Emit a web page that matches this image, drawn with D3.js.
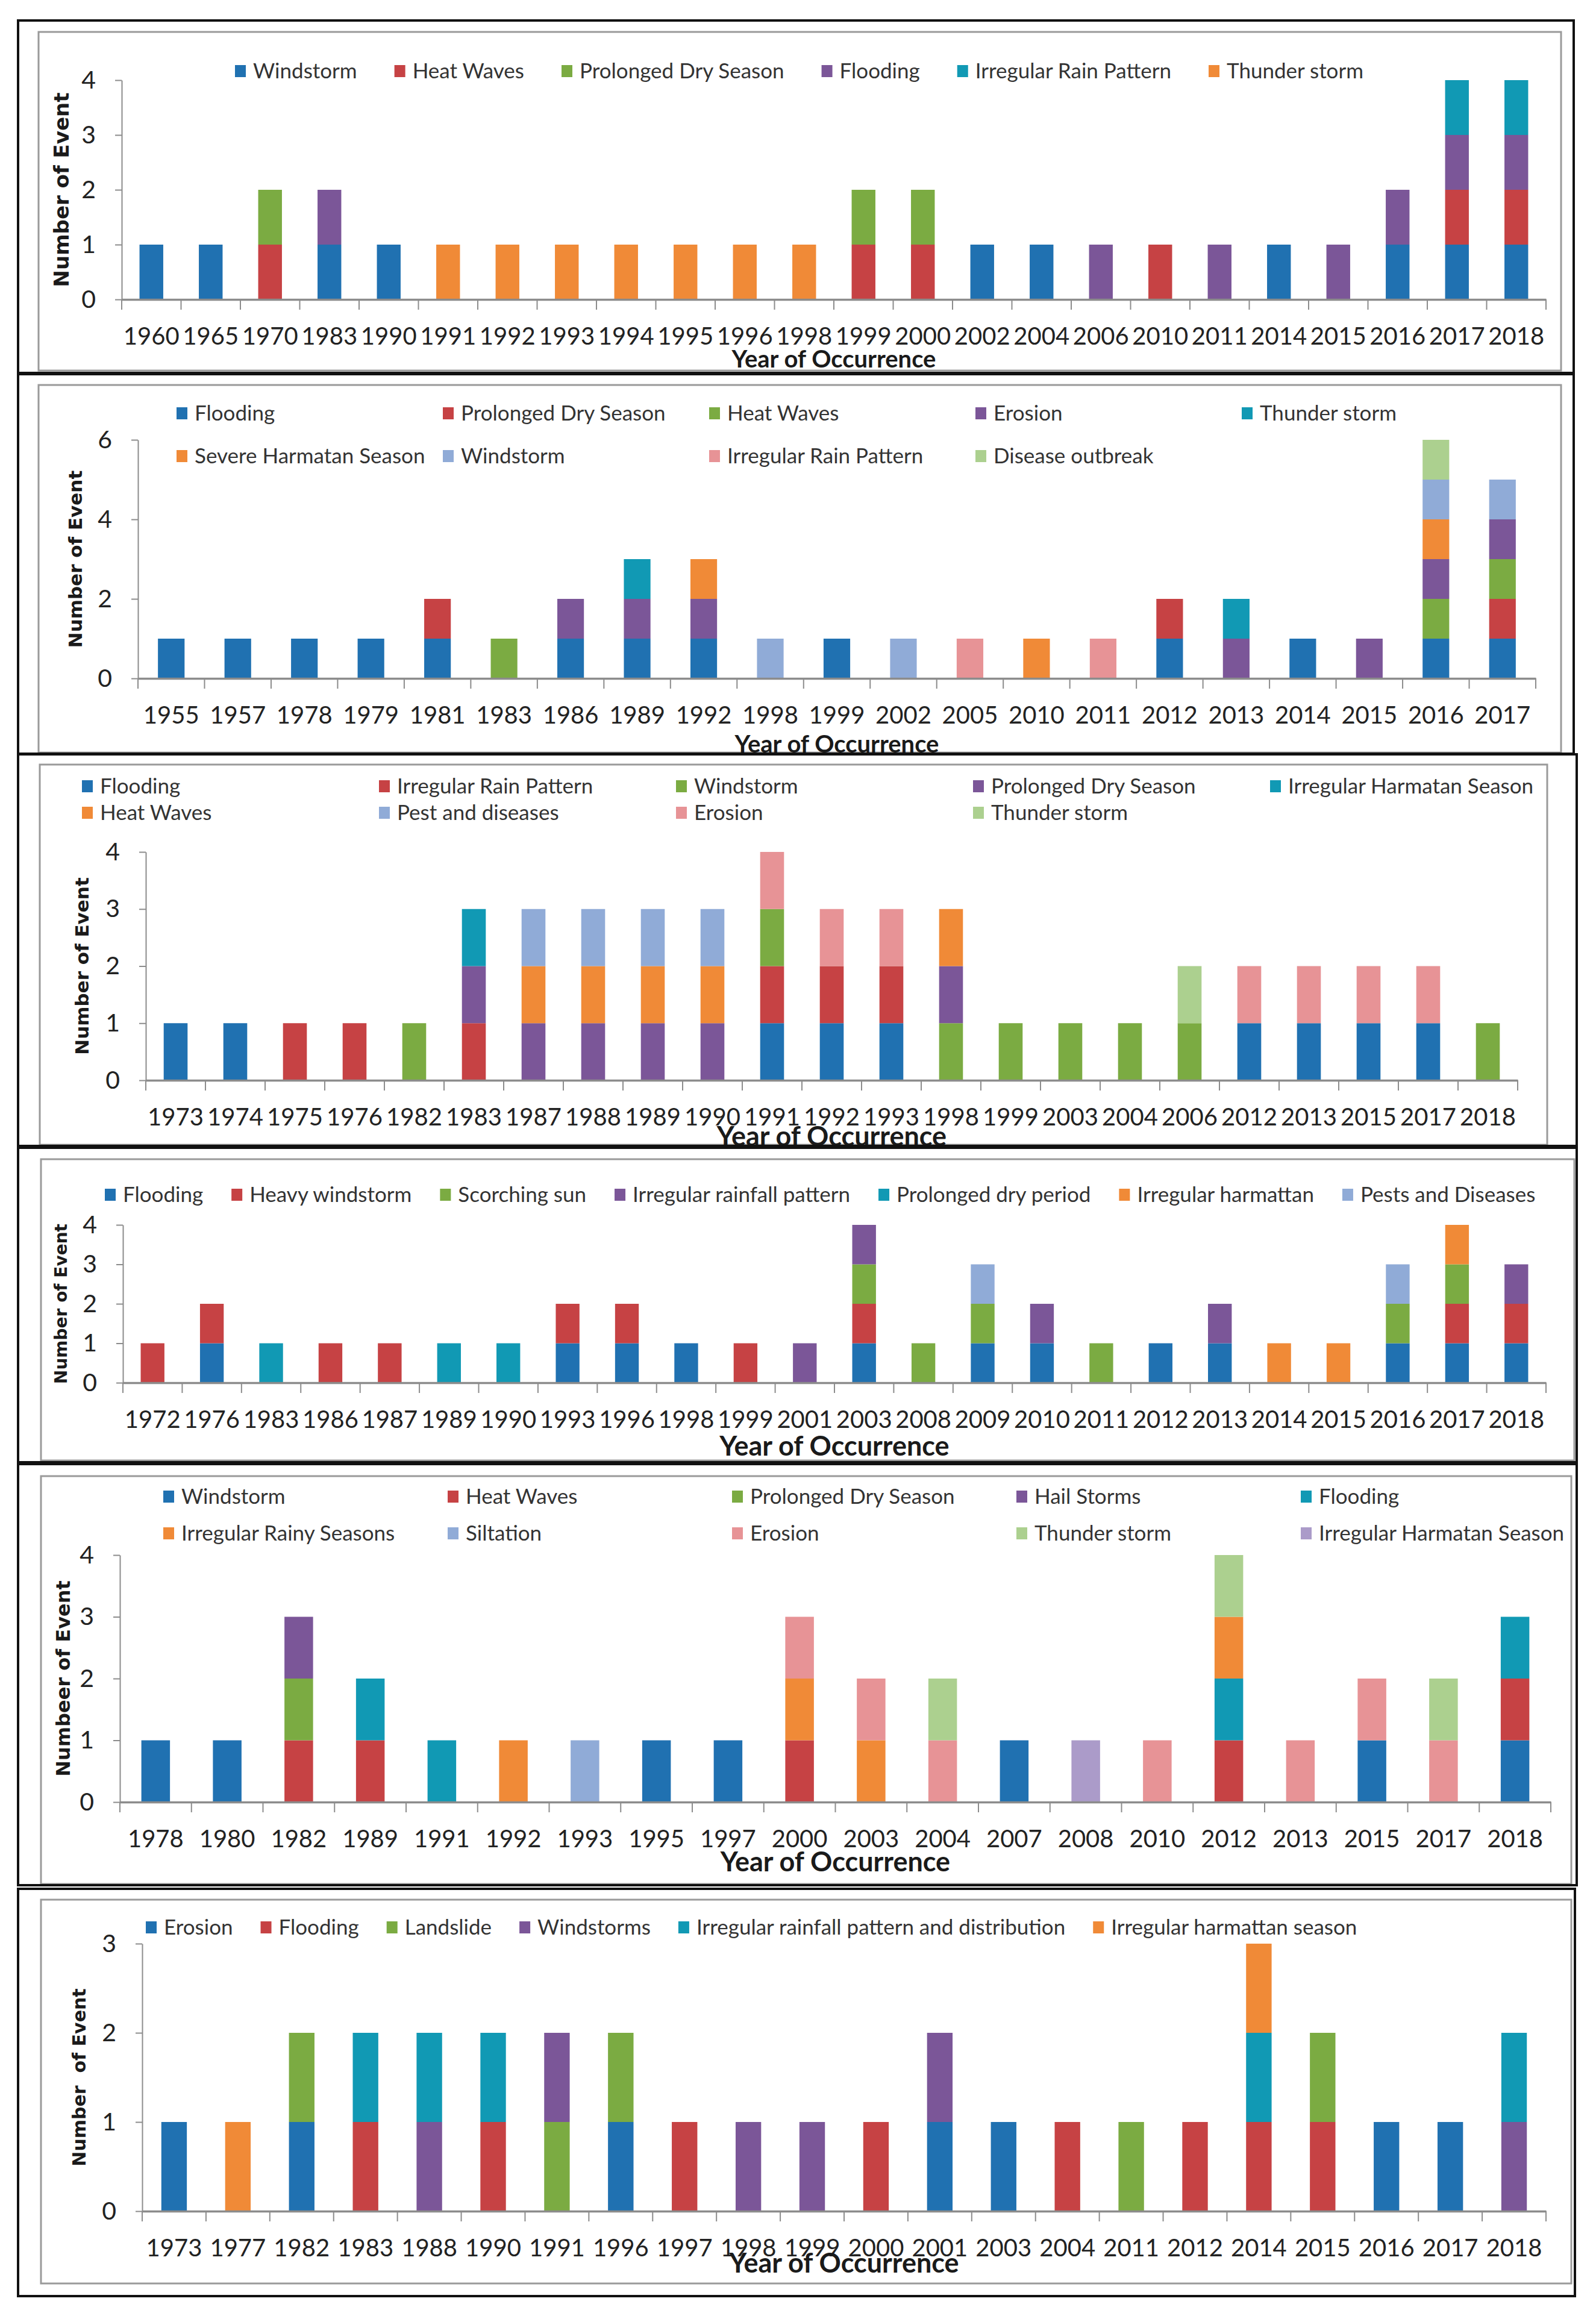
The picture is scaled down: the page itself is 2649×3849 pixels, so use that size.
<!DOCTYPE html>
<html>
<head>
  <meta charset="utf-8">
  <title>Number of events by year of occurrence</title>
  <script src="https://cdn.jsdelivr.net/npm/d3@7"></script>
  <style>
    body { margin: 0; background: #fff; }
    svg { display: block; }
  </style>
</head>
<body>
  <div id="chart"></div>
  <script>
    // Excel default series colours, in series order
    var palette = ['#2071b1', '#c64244', '#7bab42', '#7b5698', '#1199b4', '#f08a37', '#90abd7', '#e79396', '#acd08f', '#ab9bc9'];

    // ---- panel 1
    var p1Years = ['1960', '1965', '1970', '1983', '1990', '1991', '1992', '1993', '1994', '1995', '1996', '1998',
      '1999', '2000', '2002', '2004', '2006', '2010', '2011', '2014', '2015', '2016', '2017', '2018'];
    var p1Series = ['Windstorm', 'Heat Waves', 'Prolonged Dry Season', 'Flooding', 'Irregular Rain Pattern', 'Thunder storm'];
    var p1Counts = [
      [1, 1, 0, 1, 1, 0, 0, 0, 0, 0, 0, 0, 0, 0, 1, 1, 0, 0, 0, 1, 0, 1, 1, 1],
      [0, 0, 1, 0, 0, 0, 0, 0, 0, 0, 0, 0, 1, 1, 0, 0, 0, 1, 0, 0, 0, 0, 1, 1],
      [0, 0, 1, 0, 0, 0, 0, 0, 0, 0, 0, 0, 1, 1, 0, 0, 0, 0, 0, 0, 0, 0, 0, 0],
      [0, 0, 0, 1, 0, 0, 0, 0, 0, 0, 0, 0, 0, 0, 0, 0, 1, 0, 1, 0, 1, 1, 1, 1],
      [0, 0, 0, 0, 0, 0, 0, 0, 0, 0, 0, 0, 0, 0, 0, 0, 0, 0, 0, 0, 0, 0, 1, 1],
      [0, 0, 0, 0, 0, 1, 1, 1, 1, 1, 1, 1, 0, 0, 0, 0, 0, 0, 0, 0, 0, 0, 0, 0]
    ];

    // ---- panel 2
    var p2Years = ['1955', '1957', '1978', '1979', '1981', '1983', '1986', '1989', '1992', '1998', '1999',
      '2002', '2005', '2010', '2011', '2012', '2013', '2014', '2015', '2016', '2017'];
    var p2Series = ['Flooding', 'Prolonged Dry Season', 'Heat Waves', 'Erosion', 'Thunder storm',
      'Severe Harmatan Season', 'Windstorm', 'Irregular Rain Pattern', 'Disease outbreak'];
    var p2Counts = [
      [1, 1, 1, 1, 1, 0, 1, 1, 1, 0, 1, 0, 0, 0, 0, 1, 0, 1, 0, 1, 1],
      [0, 0, 0, 0, 1, 0, 0, 0, 0, 0, 0, 0, 0, 0, 0, 1, 0, 0, 0, 0, 1],
      [0, 0, 0, 0, 0, 1, 0, 0, 0, 0, 0, 0, 0, 0, 0, 0, 0, 0, 0, 1, 1],
      [0, 0, 0, 0, 0, 0, 1, 1, 1, 0, 0, 0, 0, 0, 0, 0, 1, 0, 1, 1, 1],
      [0, 0, 0, 0, 0, 0, 0, 1, 0, 0, 0, 0, 0, 0, 0, 0, 1, 0, 0, 0, 0],
      [0, 0, 0, 0, 0, 0, 0, 0, 1, 0, 0, 0, 0, 1, 0, 0, 0, 0, 0, 1, 0],
      [0, 0, 0, 0, 0, 0, 0, 0, 0, 1, 0, 1, 0, 0, 0, 0, 0, 0, 0, 1, 1],
      [0, 0, 0, 0, 0, 0, 0, 0, 0, 0, 0, 0, 1, 0, 1, 0, 0, 0, 0, 0, 0],
      [0, 0, 0, 0, 0, 0, 0, 0, 0, 0, 0, 0, 0, 0, 0, 0, 0, 0, 0, 1, 0]
    ];

    // ---- panel 3
    var p3Years = ['1973', '1974', '1975', '1976', '1982', '1983', '1987', '1988', '1989', '1990', '1991', '1992',
      '1993', '1998', '1999', '2003', '2004', '2006', '2012', '2013', '2015', '2017', '2018'];
    var p3Series = ['Flooding', 'Irregular Rain Pattern', 'Windstorm', 'Prolonged Dry Season', 'Irregular Harmatan Season',
      'Heat Waves', 'Pest and diseases', 'Erosion', 'Thunder storm'];
    var p3Counts = [
      [1, 1, 0, 0, 0, 0, 0, 0, 0, 0, 1, 1, 1, 0, 0, 0, 0, 0, 1, 1, 1, 1, 0],
      [0, 0, 1, 1, 0, 1, 0, 0, 0, 0, 1, 1, 1, 0, 0, 0, 0, 0, 0, 0, 0, 0, 0],
      [0, 0, 0, 0, 1, 0, 0, 0, 0, 0, 1, 0, 0, 1, 1, 1, 1, 1, 0, 0, 0, 0, 1],
      [0, 0, 0, 0, 0, 1, 1, 1, 1, 1, 0, 0, 0, 1, 0, 0, 0, 0, 0, 0, 0, 0, 0],
      [0, 0, 0, 0, 0, 1, 0, 0, 0, 0, 0, 0, 0, 0, 0, 0, 0, 0, 0, 0, 0, 0, 0],
      [0, 0, 0, 0, 0, 0, 1, 1, 1, 1, 0, 0, 0, 1, 0, 0, 0, 0, 0, 0, 0, 0, 0],
      [0, 0, 0, 0, 0, 0, 1, 1, 1, 1, 0, 0, 0, 0, 0, 0, 0, 0, 0, 0, 0, 0, 0],
      [0, 0, 0, 0, 0, 0, 0, 0, 0, 0, 1, 1, 1, 0, 0, 0, 0, 0, 1, 1, 1, 1, 0],
      [0, 0, 0, 0, 0, 0, 0, 0, 0, 0, 0, 0, 0, 0, 0, 0, 0, 1, 0, 0, 0, 0, 0]
    ];

    // ---- panel 4
    var p4Years = ['1972', '1976', '1983', '1986', '1987', '1989', '1990', '1993', '1996', '1998', '1999', '2001',
      '2003', '2008', '2009', '2010', '2011', '2012', '2013', '2014', '2015', '2016', '2017', '2018'];
    var p4Series = ['Flooding', 'Heavy windstorm', 'Scorching sun', 'Irregular rainfall pattern', 'Prolonged dry period',
      'Irregular harmattan', 'Pests and Diseases'];
    var p4Counts = [
      [0, 1, 0, 0, 0, 0, 0, 1, 1, 1, 0, 0, 1, 0, 1, 1, 0, 1, 1, 0, 0, 1, 1, 1],
      [1, 1, 0, 1, 1, 0, 0, 1, 1, 0, 1, 0, 1, 0, 0, 0, 0, 0, 0, 0, 0, 0, 1, 1],
      [0, 0, 0, 0, 0, 0, 0, 0, 0, 0, 0, 0, 1, 1, 1, 0, 1, 0, 0, 0, 0, 1, 1, 0],
      [0, 0, 0, 0, 0, 0, 0, 0, 0, 0, 0, 1, 1, 0, 0, 1, 0, 0, 1, 0, 0, 0, 0, 1],
      [0, 0, 1, 0, 0, 1, 1, 0, 0, 0, 0, 0, 0, 0, 0, 0, 0, 0, 0, 0, 0, 0, 0, 0],
      [0, 0, 0, 0, 0, 0, 0, 0, 0, 0, 0, 0, 0, 0, 0, 0, 0, 0, 0, 1, 1, 0, 1, 0],
      [0, 0, 0, 0, 0, 0, 0, 0, 0, 0, 0, 0, 0, 0, 1, 0, 0, 0, 0, 0, 0, 1, 0, 0]
    ];

    // ---- panel 5
    var p5Years = ['1978', '1980', '1982', '1989', '1991', '1992', '1993', '1995', '1997', '2000',
      '2003', '2004', '2007', '2008', '2010', '2012', '2013', '2015', '2017', '2018'];
    var p5Series = ['Windstorm', 'Heat Waves', 'Prolonged Dry Season', 'Hail Storms', 'Flooding',
      'Irregular Rainy Seasons', 'Siltation', 'Erosion', 'Thunder storm', 'Irregular Harmatan Season'];
    var p5Counts = [
      [1, 1, 0, 0, 0, 0, 0, 1, 1, 0, 0, 0, 1, 0, 0, 0, 0, 1, 0, 1],
      [0, 0, 1, 1, 0, 0, 0, 0, 0, 1, 0, 0, 0, 0, 0, 1, 0, 0, 0, 1],
      [0, 0, 1, 0, 0, 0, 0, 0, 0, 0, 0, 0, 0, 0, 0, 0, 0, 0, 0, 0],
      [0, 0, 1, 0, 0, 0, 0, 0, 0, 0, 0, 0, 0, 0, 0, 0, 0, 0, 0, 0],
      [0, 0, 0, 1, 1, 0, 0, 0, 0, 0, 0, 0, 0, 0, 0, 1, 0, 0, 0, 1],
      [0, 0, 0, 0, 0, 1, 0, 0, 0, 1, 1, 0, 0, 0, 0, 1, 0, 0, 0, 0],
      [0, 0, 0, 0, 0, 0, 1, 0, 0, 0, 0, 0, 0, 0, 0, 0, 0, 0, 0, 0],
      [0, 0, 0, 0, 0, 0, 0, 0, 0, 1, 1, 1, 0, 0, 1, 0, 1, 1, 1, 0],
      [0, 0, 0, 0, 0, 0, 0, 0, 0, 0, 0, 1, 0, 0, 0, 1, 0, 0, 1, 0],
      [0, 0, 0, 0, 0, 0, 0, 0, 0, 0, 0, 0, 0, 1, 0, 0, 0, 0, 0, 0]
    ];

    // ---- panel 6
    var p6Years = ['1973', '1977', '1982', '1983', '1988', '1990', '1991', '1996', '1997', '1998', '1999',
      '2000', '2001', '2003', '2004', '2011', '2012', '2014', '2015', '2016', '2017', '2018'];
    var p6Series = ['Erosion', 'Flooding', 'Landslide', 'Windstorms', 'Irregular rainfall pattern and distribution',
      'Irregular harmattan season'];
    var p6Counts = [
      [1, 0, 1, 0, 0, 0, 0, 1, 0, 0, 0, 0, 1, 1, 0, 0, 0, 0, 0, 1, 1, 0],
      [0, 0, 0, 1, 0, 1, 0, 0, 1, 0, 0, 1, 0, 0, 1, 0, 1, 1, 1, 0, 0, 0],
      [0, 0, 1, 0, 0, 0, 1, 1, 0, 0, 0, 0, 0, 0, 0, 1, 0, 0, 1, 0, 0, 0],
      [0, 0, 0, 0, 1, 0, 1, 0, 0, 1, 1, 0, 1, 0, 0, 0, 0, 0, 0, 0, 0, 1],
      [0, 0, 0, 1, 1, 1, 0, 0, 0, 0, 0, 0, 0, 0, 0, 0, 0, 1, 0, 0, 0, 1],
      [0, 1, 0, 0, 0, 0, 0, 0, 0, 0, 0, 0, 0, 0, 0, 0, 0, 1, 0, 0, 0, 0]
    ];

    var yTitles = ['Number of Event', 'Number of Event', 'Number of Event', 'Number of Event', 'Numbeer of Event', 'Number  of Event'];
    var xTitle = 'Year of Occurrence';

    // page layout of the six stacked panels (pixels)
    var panels = [
      { years: p1Years, series: p1Series, counts: p1Counts, yMax: 4, yStep: 1,
        box: [30, 34, 2612, 619], frame: [64, 53, 2591, 615], plot: [202, 2566, 133, 497],
        legend: { type: 'flow', x: 390, y: 118, gap: 62 },
        yTitleX: 102, yTitleSize: 34, xTitleY: 610, xTitleSize: 40 },
      { years: p2Years, series: p2Series, counts: p2Counts, yMax: 6, yStep: 2,
        box: [30, 621, 2612, 1251], frame: [64, 639, 2591, 1249], plot: [229, 2549, 730, 1126],
        legend: { type: 'grid', x: 293, y: [686, 757], col: 442, cols: 5 },
        yTitleX: 125, yTitleSize: 31, xTitleY: 1249, xTitleSize: 40 },
      { years: p3Years, series: p3Series, counts: p3Counts, yMax: 4, yStep: 1,
        box: [30, 1252, 2617, 1902], frame: [66, 1269, 2568, 1900], plot: [242, 2519, 1414, 1793],
        legend: { type: 'grid', x: 136, y: [1305, 1349], col: 493, cols: 5 },
        yTitleX: 136, yTitleSize: 31, xTitleY: 1902, xTitleSize: 45 },
      { years: p4Years, series: p4Series, counts: p4Counts, yMax: 4, yStep: 1,
        box: [30, 1905, 2617, 2427], frame: [68, 1924, 2613, 2424], plot: [204, 2566, 2033, 2295],
        legend: { type: 'flow', x: 174, y: 1983, gap: 47 },
        yTitleX: 101, yTitleSize: 28, xTitleY: 2416, xTitleSize: 45 },
      { years: p5Years, series: p5Series, counts: p5Counts, yMax: 4, yStep: 1,
        box: [30, 2430, 2617, 3129], frame: [68, 2450, 2608, 3127], plot: [199, 2574, 2581, 2991],
        legend: { type: 'grid', x: 271, y: [2484, 2545], col: 472, cols: 5 },
        yTitleX: 104, yTitleSize: 32, xTitleY: 3106, xTitleSize: 45 },
      { years: p6Years, series: p6Series, counts: p6Counts, yMax: 3, yStep: 1,
        box: [30, 3135, 2614, 3811], frame: [68, 3153, 2608, 3790], plot: [236, 2566, 3226, 3670],
        legend: { type: 'flow', x: 242, y: 3199, gap: 46 },
        yTitleX: 131, yTitleSize: 30, xTitleY: 3772, xTitleSize: 45 }
    ];

    var width = 2649, height = 3849;
    var axisColor = '#8c8c8c';
    var bodyFont = 'Lato, "Open Sans", sans-serif';

    var svg = d3.select('#chart').append('svg')
      .attr('width', width)
      .attr('height', height)
      .style('background', '#fff');

    panels.forEach(function (p, i) { drawPanel(p, i); });

    function drawPanel(p, i) {
      var box = p.box, fr = p.frame, pl = p.plot;

      svg.append('clipPath').attr('id', 'clip' + i)
        .append('rect')
        .attr('x', box[0]).attr('y', box[1])
        .attr('width', box[2] - box[0]).attr('height', box[3] - box[1]);

      var g = svg.append('g').attr('clip-path', 'url(#clip' + i + ')');

      // chart area border
      g.append('rect')
        .attr('x', fr[0]).attr('y', fr[1])
        .attr('width', fr[2] - fr[0]).attr('height', fr[3] - fr[1])
        .attr('fill', 'none').attr('stroke', '#9a9a9a').attr('stroke-width', 3);

      var x = d3.scaleBand()
        .domain(p.years)
        .range([pl[0], pl[1]])
        .paddingInner(0.6)
        .paddingOuter(0.3);

      var y = d3.scaleLinear()
        .domain([0, p.yMax])
        .range([pl[3], pl[2]]);

      // one row per year, one key per series
      var rows = p.years.map(function (yr, j) {
        var o = { year: yr };
        p.series.forEach(function (s, k) { o[s] = p.counts[k][j]; });
        return o;
      });
      var stacked = d3.stack().keys(p.series)(rows);

      // y axis
      var yAxis = d3.axisLeft(y)
        .tickValues(d3.range(0, p.yMax + p.yStep / 2, p.yStep))
        .tickFormat(d3.format('d'))
        .tickSizeInner(11)
        .tickSizeOuter(0)
        .tickPadding(32);
      var gy = g.append('g')
        .attr('transform', 'translate(' + pl[0] + ',0)')
        .call(yAxis);
      gy.select('.domain').attr('stroke', axisColor).attr('stroke-width', 2);
      gy.selectAll('.tick line').attr('stroke', axisColor).attr('stroke-width', 2);
      gy.selectAll('.tick text')
        .attr('font-family', bodyFont).attr('font-size', 41).attr('fill', '#222');

      // bars
      g.append('g').selectAll('g')
        .data(stacked)
        .join('g')
        .attr('fill', function (d, k) { return palette[k]; })
        .selectAll('rect')
        .data(function (d) { return d.filter(function (v) { return v[1] > v[0]; }); })
        .join('rect')
        .attr('x', function (d) { return x(d.data.year); })
        .attr('width', x.bandwidth())
        .attr('y', function (d) { return y(d[1]); })
        .attr('height', function (d) { return y(d[0]) - y(d[1]); });

      // x axis: labels from the band scale, tick marks on category boundaries
      var xAxis = d3.axisBottom(x).tickSizeInner(0).tickSizeOuter(0).tickPadding(47);
      var gx = g.append('g')
        .attr('transform', 'translate(0,' + y(0) + ')')
        .call(xAxis);
      gx.select('.domain').attr('stroke', axisColor).attr('stroke-width', 3.5);
      gx.selectAll('.tick text')
        .attr('font-family', bodyFont).attr('font-size', 40).attr('fill', '#222');

      var bounds = p.years.map(function (yr) { return x(yr) + x.bandwidth() / 2 - x.step() / 2; });
      bounds.push(pl[1]);
      gx.append('g').selectAll('line')
        .data(bounds)
        .join('line')
        .attr('x1', function (d) { return d; })
        .attr('x2', function (d) { return d; })
        .attr('y1', 0)
        .attr('y2', 17)
        .attr('stroke', axisColor)
        .attr('stroke-width', 2);

      // axis titles
      g.append('text')
        .attr('transform', 'translate(' + p.yTitleX + ',' + ((pl[2] + pl[3]) / 2) + ') rotate(-90)')
        .attr('text-anchor', 'middle')
        .attr('dy', '0.36em')
        .attr('font-family', '"DejaVu Sans", Verdana, sans-serif')
        .attr('font-weight', 'bold')
        .attr('font-size', p.yTitleSize)
        .attr('fill', '#1a1a1a')
        .style('white-space', 'pre')
        .text(yTitles[i]);

      g.append('text')
        .attr('x', (pl[0] + pl[1]) / 2)
        .attr('y', p.xTitleY)
        .attr('text-anchor', 'middle')
        .attr('font-family', bodyFont)
        .attr('font-weight', 'bold')
        .attr('font-size', p.xTitleSize)
        .attr('fill', '#1a1a1a')
        .text(xTitle);

      drawLegend(g, p);

      // outer black frame
      svg.append('rect')
        .attr('x', box[0]).attr('y', box[1])
        .attr('width', box[2] - box[0]).attr('height', box[3] - box[1])
        .attr('fill', 'none').attr('stroke', '#111').attr('stroke-width', 4);
    }

    function drawLegend(g, p) {
      var lg = p.legend;
      var cursor = lg.x;
      p.series.forEach(function (s, k) {
        var sx, sy;
        if (lg.type === 'grid') {
          sx = lg.x + (k % lg.cols) * lg.col;
          sy = lg.y[Math.floor(k / lg.cols)];
        } else {
          sx = cursor;
          sy = lg.y;
        }
        var item = g.append('g').attr('transform', 'translate(' + sx + ',' + sy + ')');
        item.append('rect')
          .attr('x', 0).attr('y', -10)
          .attr('width', 18).attr('height', 20)
          .attr('fill', palette[k]);
        var t = item.append('text')
          .attr('x', 30)
          .attr('dy', '0.35em')
          .attr('font-family', bodyFont)
          .attr('font-size', 35)
          .attr('fill', '#333')
          .text(s);
        if (lg.type === 'flow') {
          cursor = sx + 30 + t.node().getComputedTextLength() + lg.gap;
        }
      });
    }
  </script>
</body>
</html>
